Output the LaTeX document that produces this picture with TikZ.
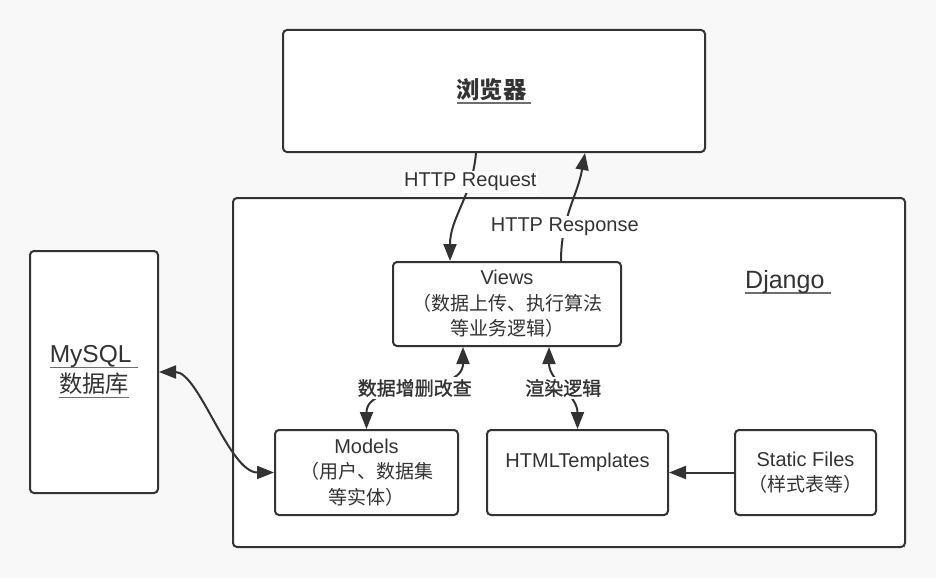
\documentclass[tikz,border=0pt]{standalone}
\usepackage{fontspec}
\setmainfont{Liberation Sans}
\newfontfamily\cjk[Scale=0.95]{Noto Sans CJK SC}
\newfontfamily\cjkmid[Scale=0.95,FakeBold=1.2]{Noto Sans CJK SC}
\usepackage{tikz}
\usetikzlibrary{arrows.meta}

\definecolor{pagebg}{HTML}{F8F8F8}
\definecolor{inkdark}{HTML}{333333}
\definecolor{rulegray}{HTML}{6E6E6E}

% text with a grey bar under it
\newcommand{\undertext}[1]{\leavevmode\setbox0=\hbox{#1}\rlap{\color{rulegray}\rule[-5.5pt]{\wd0}{1.6pt}}\box0}

\begin{document}
\begin{tikzpicture}[x=1pt, y=-1pt,
  box/.style={draw=inkdark, line width=2pt, rounded corners=4pt, fill=white, text=inkdark,
    align=center, inner sep=0pt, font=\fontsize{20}{25.5}\selectfont},
  bigtext/.style={font=\fontsize{24.5}{30}\selectfont},
  link/.style={draw=inkdark, line width=2pt, -{Triangle[length=17pt,width=13pt]}},
  twoway/.style={link, {Triangle[length=17pt,width=13pt]}-{Triangle[length=17pt,width=13pt]}},
  tag/.style={fill=white, text=inkdark, inner sep=2pt, font=\fontsize{20}{24}\selectfont}]

  % Canvas
  \fill[pagebg] (0,0) rectangle (936,578);
  \useasboundingbox (0,0) rectangle (936,578);

  % Django container
  \draw[inkdark, line width=2pt, rounded corners=4pt, fill=white] (233,198) rectangle (905,547);
  \node[anchor=base west, text=inkdark, inner sep=0pt, font=\fontsize{25}{30}\selectfont] (djangolabel) at (745,288) {\undertext{Django\ }};

  % Browser and database
  \node[box, bigtext, minimum width=422pt, minimum height=122pt] (browser) at (494,91) {\undertext{\cjk\bfseries 浏览器\kern5pt}};
  \node[box, bigtext, minimum width=128pt, minimum height=242pt] (mysql) at (94,372) {\undertext{MySQL\ }\\\undertext{\cjk 数据库}};

  % Inside Django
  \node[box, minimum width=228pt, minimum height=84pt] (views) at (507,304) {Views\\{\cjk （数据上传、执行算法}\\{\cjk 等业务逻辑）}};
  \node[box, minimum width=183pt, minimum height=85pt] (models) at (366.5,472.5) {Models\\{\cjk （用户、数据集}\\{\cjk 等实体）}};
  \node[box, minimum width=181pt, minimum height=85pt] (html) at (577.5,472.5) {HTMLTemplates\\\mbox{}};
  \node[box, minimum width=141pt, minimum height=85pt] (static) at (805.5,472.5) {Static Files\\{\cjk （样式表等）}};

  % Request / response
  \draw[link] ([xshift=-18pt]browser.south) to[out=-95, in=90] node[tag, pos=0.25] (reqtag) {HTTP Request} ([xshift=-57pt]views.north);
  \draw[link] ([xshift=54pt]views.north) to[out=90, in=-100] node[tag, pos=0.3] (resptag) {HTTP Response} ([xshift=91pt]browser.south);

  % Data and templates
  \draw[twoway] (mysql.east) .. controls +(40,0) and +(-45,0) .. (models.west);
  \draw[twoway] ([xshift=-44pt]views.south) to[out=-90, in=90] node[tag, pos=0.5] (crudtag) {\cjkmid 数据增删改查} (models.north);
  \draw[twoway] ([xshift=42pt]views.south) to[out=-90, in=90] node[tag, pos=0.5] (rendertag) {\cjkmid 渲染逻辑} (html.north);
  \draw[link] (static.west) -- (html.east);

\end{tikzpicture}
\end{document}
